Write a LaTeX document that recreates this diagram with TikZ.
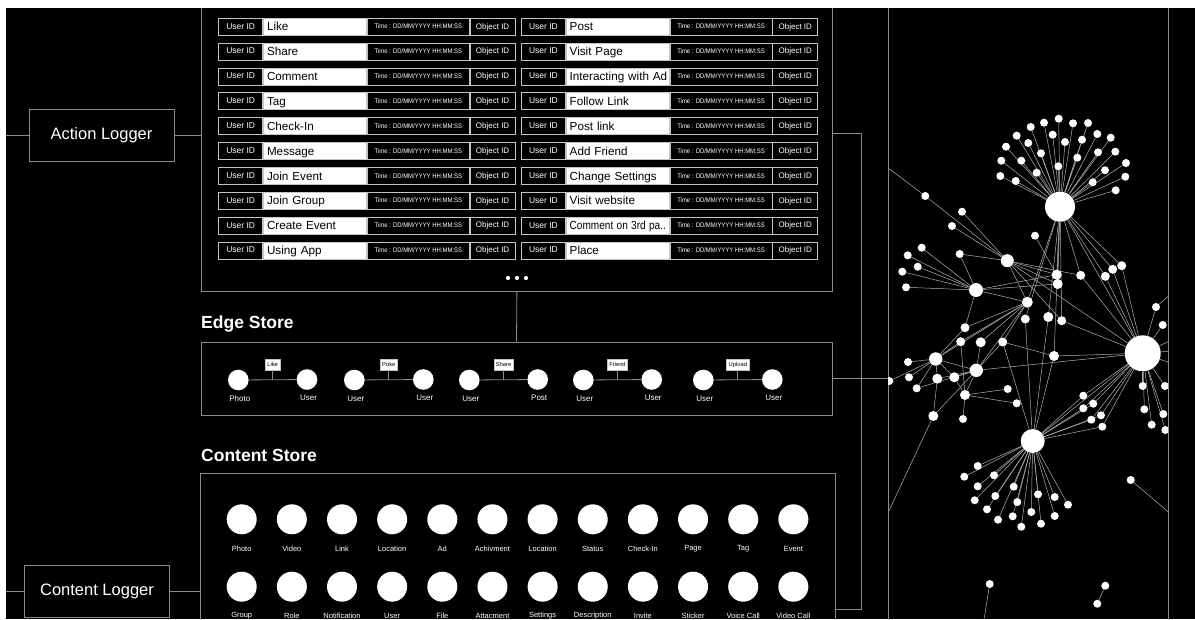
\documentclass[tikz,border=0pt]{standalone}
\usepackage{fontspec}
\setmainfont{Liberation Sans}
\usetikzlibrary{calc}
\pgfdeclarelayer{back}
\pgfdeclarelayer{edges}
\pgfsetlayers{back,edges,main}
\definecolor{boxgray}{HTML}{8C8C8C}
\definecolor{cellgray}{HTML}{C4C4C4}
\definecolor{edgegray}{HTML}{B0B0B0}
\begin{document}
\begin{tikzpicture}[x=1pt,y=-1pt,
  logbox/.style={draw=boxgray, line width=0.8, text=white, inner sep=0,
    font=\fontsize{16.5}{18}\selectfont, minimum width=145, minimum height=52},
  frame/.style={draw=boxgray, line width=0.8, inner sep=0},
  title/.style={anchor=west, text=white, inner sep=0, font=\bfseries\fontsize{17.5}{20}\selectfont},
  uid/.style={draw=cellgray, line width=0.8, fill=black, text=white, inner sep=0,
    minimum width=44, minimum height=17, text height=6.1, text depth=1.4, font=\fontsize{8.5}{9}\selectfont},
  lbl/.style={draw=cellgray, line width=0.8, fill=white, text=black, inner sep=0, inner xsep=3.5,
    text width=96, align=left, minimum height=17, text height=8.4, text depth=0.2, font=\fontsize{11.7}{13}\selectfont},
  tcell/.style={draw=cellgray, line width=0.8, fill=black, text=white, inner sep=0,
    minimum width=102, minimum height=17, text height=4.8, text depth=0.6, font=\fontsize{6.6}{7}\selectfont},
  ocell/.style={draw=cellgray, line width=0.8, fill=black, text=white, inner sep=0,
    minimum width=45, minimum height=17, text height=5.8, text depth=1.2, font=\fontsize{8}{9}\selectfont},
  conn/.style={draw=boxgray, line width=0.8},
  ecirc/.style={circle, fill=white, inner sep=0, minimum size=20.6},
  etag/.style={fill=white, draw=cellgray, line width=0.5, text=black, inner sep=0, inner xsep=2,
    minimum height=11, font=\fontsize{5.8}{6}\selectfont},
  elab/.style={text=white, inner sep=0, font=\fontsize{8}{9}\selectfont},
  ccirc/.style={circle, fill=white, inner sep=0, minimum size=30},
  clab/.style={text=white, inner sep=0, font=\fontsize{7.5}{8}\selectfont},
  gdot/.style={circle, fill=white, inner sep=0, minimum size=#1},
  gedge/.style={draw=edgegray, line width=0.5}
]
\useasboundingbox (0,0) rectangle (1195,619);
\begin{pgfonlayer}{back}
  \fill[black] (0,0) rectangle (1195,619);
\end{pgfonlayer}

% ---------- loggers ----------
\node[logbox] (AL) at (101.5,135.5) {Action Logger};
\node[logbox] (CL) at (97,591.5) {Content Logger};
\coordinate (ALin) at (6,135.5);
\coordinate (CLin) at (6,591.5);

% ---------- action log box ----------
\node[frame, anchor=south west, minimum width=631, minimum height=300] (actbox) at (201,292) {};
\foreach \lab [count=\i] in {Like,Share,Comment,Tag,Check-In,Message,Join Event,Join Group,Create Event,Using App} {
  \pgfmathsetmacro\yy{26.7+24.87*(\i-1)}
  \node[uid, anchor=west] (uL\i) at (218.3,\yy) {User ID};
  \node[lbl, anchor=west] (lL\i) at (uL\i.east) {\mbox{\lab}};
  \node[tcell, anchor=west] (tL\i) at (lL\i.east) {\scalebox{0.9}[1]{Time : DD/MM/YYYY HH:MM:SS}};
  \node[ocell, anchor=west] (oL\i) at (tL\i.east) {Object ID};
}
\foreach \lab [count=\i] in {Post,Visit Page,Interacting with Ad,Follow Link,Post link,Add Friend,Change Settings,Visit website,{\scalebox{0.86}[1]{Comment on 3rd pa..}},Place} {
  \pgfmathsetmacro\yy{26.7+24.87*(\i-1)}
  \node[uid, anchor=west] (uR\i) at (521,\yy) {User ID};
  \node[lbl, anchor=west] (lR\i) at (uR\i.east) {\mbox{\lab}};
  \node[tcell, anchor=west] (tR\i) at (lR\i.east) {\scalebox{0.9}[1]{Time : DD/MM/YYYY HH:MM:SS}};
  \node[ocell, anchor=west] (oR\i) at (tR\i.east) {Object ID};
}
\foreach \k/\xx in {1/508,2/517,3/526}
  \node[circle, fill=white, inner sep=0, minimum size=4.2] (dot\k) at (\xx,278) {};

% ---------- edge store ----------
\node[title] (estitle) at (201,324) {Edge Store};
\node[frame, minimum width=631, minimum height=73] (edgebox) at (516.5,378.5) {};
\foreach \xa/\xb/\tg/\la/\lb [count=\i] in {238.3/307/Like/Photo/User, 354.3/423.3/Poke/User/User, 469.3/537.7/Share/User/Post, 583.3/651.7/Friend/User/User, 703.3/772.3/Upload/User/User} {
  \node[ecirc] (ea\i) at (\xa,380) {};
  \node[ecirc] (eb\i) at (\xb,379.5) {};
  \draw[conn] (ea\i) -- (eb\i);
  \node[etag] (et\i) at ({(\xa+\xb)/2},364.5) {\tg};
  \draw[conn] (et\i.south) -- (et\i.south |- ea\i.center);
  \node[elab] (ela\i) at (\xa+1.5,398.5) {\la};
  \node[elab] (elb\i) at (\xb+1.5,397.5) {\lb};
}

% ---------- content store ----------
\node[title] (cstitle) at (201,455) {Content Store};
\node[frame, anchor=north west, minimum width=635, minimum height=170] (contbox) at (200,473) {};
\foreach \lab [count=\i] in {Photo,Video,Link,Location,Ad,Achivment,Location,Status,Check-In,Page,Tag,Event} {
  \node[ccirc] (cs\i) at ({241.7+50.15*(\i-1)},519.3) {};
  \node[clab] (cl\i) at ({241.7+50.15*(\i-1)},548.5) {\lab};
}
\foreach \lab [count=\i] in {Group,Role,Notification,User,File,Attacment,Settings,Description,Invite,Sticker,Voice Call,Video Call} {
  \node[ccirc] (ct\i) at ({241.7+50.15*(\i-1)},586.7) {};
  \node[clab] (cm\i) at ({241.7+50.15*(\i-1)},616) {\lab};
}

% ---------- graph panel ----------
\node[frame, anchor=north west, minimum width=280, minimum height=640] (panel) at (888,2) {};

% ---------- connectors ----------
\coordinate (bus) at (861,133);
\coordinate (busb) at (861,609);
\draw[conn] (ALin) -- (AL.west);
\draw[conn] (AL.east) -- (actbox.west |- AL.east);
\draw[conn] (CLin) -- (CL.west);
\draw[conn] (CL.east) -- (contbox.west |- CL.east);
\draw[conn] (actbox.south) -- (edgebox.north);
\draw[conn] (actbox.east |- bus) -- (bus) -- (busb) -- (contbox.east |- busb);
\draw[conn] (edgebox.east) -- (edgebox.east -| panel.west);

% ---------- network graph ----------
\begin{scope}
\clip (888,8) rectangle (1168,619);
\foreach \n/\x/\y/\r in {
 gA/1060/206.7/15, gB/1142.7/353.3/18, gC/1032.7/441/12,
 ga1/1044/122.7/4, ga2/1058.7/118.7/4, ga3/1073/123.3/4, ga4/1088/123/4, ga5/1030.7/127/4,
 ga6/1016.7/135.7/4, ga7/1052.7/134.7/4, ga8/1065/142/4, ga9/1082/139.7/4, ga10/1097.3/134/4,
 ga11/1110.7/137.7/4, ga12/1006/146.7/4, ga13/1028.3/143/4, ga14/1041/153.3/4, ga15/1077.3/157.7/4,
 ga16/1098/152.3/4, ga17/1115.3/151.7/4, ga18/1001.3/160.7/4, ga19/1021.3/160.7/4, ga20/1058.3/166.3/4,
 ga21/1126/163/4, ga22/1105/170.3/4, ga23/1000.3/176/4, ga24/1015.7/181/4, ga25/1036.7/172.7/4,
 ga26/1092.7/182.3/4, ga27/1125.3/176.7/4, ga28/1115.7/190.3/4,
 gm1/1007.3/260.7/6.5, gm2/976/290/7,
 gp1/925.3/196/4, gp2/962/211.7/4, gp3/952/226/4, gp4/1035/235.7/4, gp5/921.7/247.7/4,
 gp6/907.7/255.3/4, gp7/959.7/254/4, gp8/917.7/266.7/4, gp9/902.3/271.7/4, gp10/906/287.3/4,
 gn1/1056.7/274.7/5, gn2/1057.7/284/5, gn3/1027.3/302.2/5.5, gn4/1080.7/275.3/4.5,
 gn5/1105.3/276.3/4.5, gn6/1112.7/269.3/4.5, gn7/1121.7/265.7/4.5,
 gq1/1156/307/4, gq2/1162.7/325/4, gq3/1025.3/319/4.5, gq4/1048.3/317/5, gq5/1061.7/320.7/4.5,
 gq6/965/327.7/4.5, gq7/960.7/341.7/4.5, gq8/980.7/342.3/5, gq9/1002.7/342/4.5, gq10/1054/356/5,
 gh1/935.7/359/6.7, gh2/976.3/370.3/6.7,
 gr1/908/362/4, gr2/909/377.3/4, gr3/937.3/378.7/5, gr4/954.3/377.3/5, gr5/889.3/381/4,
 gr6/916.7/388.3/4, gr7/1007.7/389/4, gr8/965/395/5, gr9/1016.7/403.3/4, gr10/933.3/416/5, gr11/963/419/4,
 gs1/1083.3/395.7/4, gs2/1093.3/403.7/4, gs3/1083.3/408.3/4, gs4/1101/415.3/4, gs5/1091.3/419.7/4, gs6/1102.3/426.7/4,
 gb1/1142.7/386/4, gb2/1165/386/4, gb3/1144.3/409.3/4, gb4/1163.3/414/4, gb5/1151.7/424.7/4, gb6/1165.3/430/4,
 gc1/977.7/466/4, gc2/964.3/476.7/4, gc3/994/475.3/4, gc4/977.7/486.3/4, gc5/1013.7/486.7/4,
 gc6/1038/494.3/4, gc7/1054.7/497/4, gc8/995.3/496/4, gc9/974.7/500.3/4, gc10/1017.3/502/4,
 gc11/1068/504.7/4, gc12/987/509.3/4, gc13/1031.3/512/4, gc14/1012.7/516.3/4, gc15/1054.7/516/4,
 gc16/998/519.7/4, gc17/1041/523.7/4, gc18/1021.3/526.7/4,
 gt1/1130.7/480/4, gt2/989.7/584/4, gt3/1105.3/585.7/4, gt4/1097.3/603.7/4}
  \node[gdot=2*\r] (\n) at (\x,\y) {};
\end{scope}
\coordinate (go1) at (875,158);
\coordinate (go2) at (1185,526);
\coordinate (go3) at (983,626);
\coordinate (go4) at (880,530);
\coordinate (go5) at (1185,334);
\coordinate (go6) at (1185,350);
\coordinate (go7) at (1185,368);
\coordinate (go8) at (1180,286);
\begin{pgfonlayer}{edges}
\begin{scope}
\clip (888,8) rectangle (1168,619);
\foreach \i in {1,...,28} \draw[gedge] (gA) -- (ga\i);
\foreach \i in {1,...,18} \draw[gedge] (gC) -- (gc\i);
\foreach \a/\b in {gA/gn1, gA/gn2, gA/gn3, gA/gn4, gA/gn5, gA/gn6, gA/gn7, gA/gB, gA/gq3, gA/gq4, gA/gq10, gA/gq5,
  gp4/gn1, go1/gp1, gp1/gm1,
  gm1/gp2, gm1/gp3, gm1/gp7, gm1/gn1, gm1/gn2, gm1/gn4, gm1/gn3, gm1/gB, gm1/gq5,
  gm2/gp5, gm2/gp6, gm2/gp8, gm2/gp9, gm2/gp10, gm2/gp7, gm2/gn3, gm2/gn2, gm2/gn1, gm2/gq6,
  gn4/gB, gn5/gB, gn6/gB, gn7/gB,
  gn3/gq6, gn3/gq7, gn3/gq8, gn3/gq9, gn3/gh1, gn3/gh2,
  gq3/gC, gq4/gC, gq10/gC, gq10/gB, gq9/gq10, gq9/gC, gq5/gB,
  gC/gs1, gC/gs2, gC/gs3, gC/gs4, gC/gs5, gC/gs6, gs1/gB, gs2/gB, gs3/gB, gs4/gB, gs5/gB, gs6/gB, gC/gB,
  gB/gb1, gB/gb2, gB/gb3, gB/gb4, gB/gb5, gB/gb6, gB/gq1, gB/gq2, gB/go5, gB/go6, gB/go7, gq1/go8,
  gh1/gr1, gh1/gr2, gh1/gr5, gh1/gr6, gh1/gr3, gh1/gr4, gh1/gh2, gh1/gq7, gh1/gq6,
  gh2/gq8, gh2/gq9, gh2/gr4, gh2/gr3, gh2/gr6, gh2/gB, gh2/gr8,
  gr8/gr7, gr8/gr9, gr8/gr11, gr8/gr4, gr8/gq7, gr3/gr10, gr10/gh2, gr10/go4,
  gt1/go2, gt2/go3, gt3/gt4}
  \draw[gedge] (\a) -- (\b);
\end{scope}
\end{pgfonlayer}

% ---------- page margins (white strips) ----------
\fill[white] (0,0) rectangle (1195,8.3);
\fill[white] (0,0) rectangle (6,619);
\end{tikzpicture}
\end{document}
